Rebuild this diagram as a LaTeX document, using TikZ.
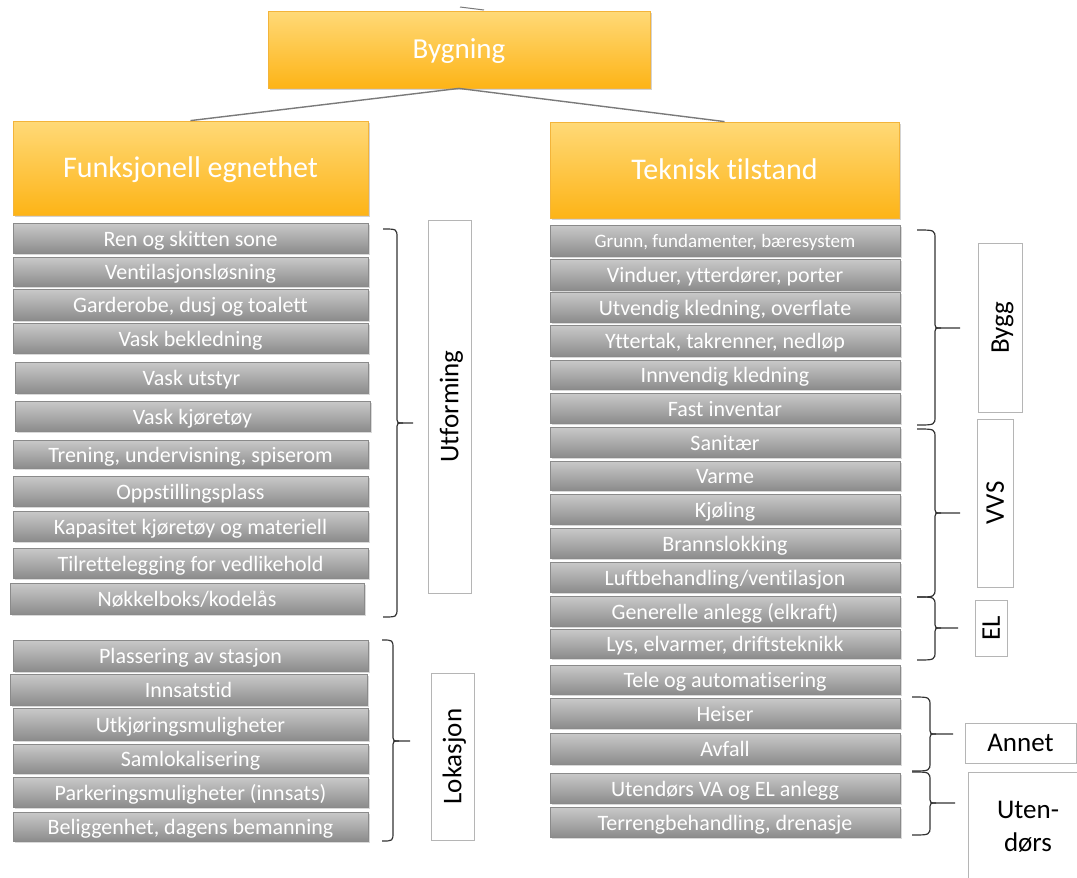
\documentclass[tikz,border=0pt]{standalone}
\usepackage{fontspec}
\setmainfont{Carlito}[Ligatures=NoCommon]
\usetikzlibrary{shadows}
\definecolor{ortop}{HTML}{FFD977}
\definecolor{orbot}{HTML}{FDB417}
\definecolor{ordraw}{HTML}{F3B43A}
\definecolor{grtop}{HTML}{C9C9C9}
\definecolor{grmid}{HTML}{ABABAB}
\definecolor{grbot}{HTML}{8C8C8C}
\definecolor{grdraw}{HTML}{8A8A8A}
\definecolor{lnk}{HTML}{7A7A7A}
\definecolor{lbdraw}{HTML}{B5B5B5}
\tikzset{
  hbox/.style={draw=ordraw,line width=0.8pt,top color=ortop,bottom color=orbot,inner sep=0pt,
    text=white,text height=19.5pt,text depth=0pt,font=\fontsize{30}{33}\selectfont,
    drop shadow={opacity=0.35,shadow xshift=1.5pt,shadow yshift=-2pt}},
  gbox/.style={draw=grdraw,line width=0.8pt,top color=grtop,bottom color=grbot,middle color=grmid,
    inner sep=0pt,text=white,font=\fontsize{22}{24}\selectfont,text height=17pt,text depth=0.5pt,
    drop shadow={opacity=0.3,shadow xshift=1.5pt,shadow yshift=-2pt}},
  lbox/.style={draw=lbdraw,line width=0.8pt,fill=white,inner sep=0pt,text=black,
    font=\fontsize{27}{30}\selectfont,text height=17.5pt,text depth=0pt},
  link/.style={draw=lnk,line width=1.4pt},
  brc/.style={draw=black!80,line width=1.2pt}
}
\newcommand\gbx[7][]{\pgfmathsetmacro\mybw{#5-#3}\pgfmathsetmacro\mybh{#6-#4}%
  \pgfmathsetmacro\mycx{(#3+#5)/2}\pgfmathsetmacro\mycy{(#4+#6)/2}%
  \node[gbox,minimum width=\mybw pt,minimum height=\mybh pt,#1] (#2) at (\mycx,\mycy) {#7};}
\newcommand\hbx[7][]{\pgfmathsetmacro\mybw{#5-#3}\pgfmathsetmacro\mybh{#6-#4}%
  \pgfmathsetmacro\mycx{(#3+#5)/2}\pgfmathsetmacro\mycy{(#4+#6)/2}%
  \node[hbox,minimum width=\mybw pt,minimum height=\mybh pt,#1] (#2) at (\mycx,\mycy) {#7};}
\newcommand\lbx[7][]{\pgfmathsetmacro\mybw{#5-#3}\pgfmathsetmacro\mybh{#6-#4}%
  \pgfmathsetmacro\mycx{(#3+#5)/2}\pgfmathsetmacro\mycy{(#4+#6)/2}%
  \node[lbox,minimum width=\mybw pt,minimum height=\mybh pt,#1] (#2) at (\mycx,\mycy) {#7};}
\newcommand\lbxr[6]{\pgfmathsetmacro\mybw{#4-#2}\pgfmathsetmacro\mybh{#5-#3}%
  \pgfmathsetmacro\mycx{(#2+#4)/2}\pgfmathsetmacro\mycy{(#3+#5)/2}%
  \node[lbox,rotate=90,minimum width=\mybh pt,minimum height=\mybw pt] (#1) at (\mycx,\mycy) {#6};}
% brace: xl, xr, top, bottom, mid, tickend
\newcommand\mybrace[6]{%
  \draw[brc] (#1,#3) .. controls (#2,#3) .. (#2,#3+9) -- (#2,#5-7) .. controls (#2,#5) .. (#2+6,#5) -- (#6,#5);
  \draw[brc] (#1,#4) .. controls (#2,#4) .. (#2,#4-9) -- (#2,#5+7) .. controls (#2,#5) .. (#2+6,#5);}
\begin{document}
\begin{tikzpicture}[x=1pt,y=-1pt]
\useasboundingbox (0,0) rectangle (1077,878);
% top stub
\draw[link,line width=1pt] (460,7) -- (484,10);
% headers
\hbx[font=\fontsize{29}{32}\selectfont,text height=18.7pt]{byg}{268}{11}{650}{88}{Bygning}
\hbx{fe}{13}{121}{368}{215}{Funksjonell egnethet}
\hbx{tt}{550}{122}{899}{218}{Teknisk tilstand}
\draw[link] (byg.south) -- (fe.north);
\draw[link] (byg.south) -- (tt.north);
% left column
\gbx{l1}{13}{223}{368}{253}{Ren og skitten sone}
\gbx{l2}{13}{257}{368}{286}{Ventilasjonsløsning}
\gbx{l3}{13}{289}{368}{320}{Garderobe, dusj og toalett}
\gbx{l4}{13}{323}{368}{353}{Vask bekledning}
\gbx{l5}{15}{362}{368}{393}{Vask utstyr}
\gbx{l6}{15}{401}{370}{431}{Vask kjøretøy}
\gbx{l7}{13}{440}{368}{468}{Trening, undervisning, spiserom}
\gbx{l8}{13}{476}{368}{506}{Oppstillingsplass}
\gbx{l9}{13}{511}{368}{541}{Kapasitet kjøretøy og materiell}
\gbx{l10}{13}{548}{368}{578}{Tilrettelegging for vedlikehold}
\gbx{l11}{10}{583}{364}{614}{Nøkkelboks/kodelås}
\mybrace{383}{397}{229}{617}{423}{413}
\lbxr{utf}{428}{220}{471}{593}{Utforming}
%
\gbx{m1}{13}{640}{368}{671}{Plassering av stasjon}
\gbx{m2}{10}{674}{367}{705}{Innsatstid}
\gbx{m3}{13}{708}{368}{740}{Utkjøringsmuligheter}
\gbx{m4}{13}{744}{368}{773}{Samlokalisering}
\gbx{m5}{13}{777}{368}{807}{Parkeringsmuligheter (innsats)}
\gbx{m6}{13}{812}{368}{841}{Beliggenhet, dagens bemanning}
\mybrace{382}{393}{640}{841}{741}{410}
\lbxr{lok}{431}{673}{474}{840}{Lokasjon}
% right column
\gbx[font=\fontsize{19}{21}\selectfont,text height=15pt]{r1}{550}{225}{900}{256}{Grunn, fundamenter, bæresystem}
\gbx{r2}{550}{259}{900}{290}{Vinduer, ytterdører, porter}
\gbx{r3}{550}{292}{900}{322}{Utvendig kledning, overflate}
\gbx{r4}{550}{325}{900}{356}{Yttertak, takrenner, nedløp}
\gbx{r5}{550}{360}{900}{389}{Innvendig kledning}
\gbx{r6}{550}{393}{900}{423}{Fast inventar}
\gbx{r7}{550}{427}{900}{457}{Sanitær}
\gbx{r8}{550}{461}{900}{490}{Varme}
\gbx{r9}{550}{494}{900}{524}{Kjøling}
\gbx{r10}{550}{528}{900}{558}{Brannslokking}
\gbx{r11}{550}{562}{900}{592}{Luftbehandling/ventilasjon}
\gbx{r12}{550}{596}{900}{626}{Generelle anlegg (elkraft)}
\gbx{r13}{550}{629}{900}{658}{Lys, elvarmer, driftsteknikk}
\gbx{r14}{550}{665}{900}{694}{Tele og automatisering}
\gbx{r15}{550}{698}{900}{728}{Heiser}
\gbx{r16}{550}{733}{900}{764}{Avfall}
\gbx{r17}{550}{773}{900}{803}{Utendørs VA og EL anlegg}
\gbx{r18}{550}{807}{900}{837}{Terrengbehandling, drenasje}
\mybrace{917}{935}{230}{425}{328}{960}
\mybrace{917}{935}{429}{597}{513}{960}
\mybrace{917}{935}{597}{660}{628}{958}
\mybrace{912}{930}{697}{771}{734}{953}
\mybrace{912}{930}{772}{835}{803}{955}
\lbxr{bygg}{978}{243}{1022}{412}{Bygg}
\lbxr{vvs}{977}{419}{1013}{587}{VVS}
\lbxr{el}{975}{600}{1007}{656}{EL}
\lbx{ann}{965}{723}{1076}{763}{Annet}
\draw[draw=lbdraw,line width=0.8pt] (968,878) -- (968,772) -- (1077,772);
\node[font=\fontsize{27}{31}\selectfont,align=center,inner sep=0pt] (ute) at (1028,827) {Uten-\\[2pt]dørs};
\end{tikzpicture}
\end{document}
